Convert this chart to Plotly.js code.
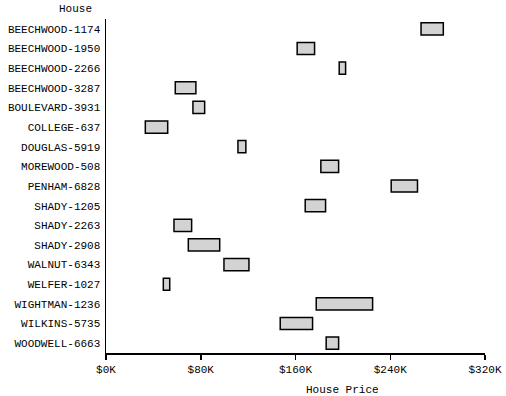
<!DOCTYPE html>
<html>
<head>
<meta charset="utf-8">
<script src="https://cdn.plot.ly/plotly-3.0.1.min.js"></script>
<style>html,body{margin:0;padding:0;background:#fff;}#chart{width:506px;height:396px;}</style>
</head>
<body>
<div id="chart"></div>
<script>
const houses = ["BEECHWOOD-1174","BEECHWOOD-1950","BEECHWOOD-2266","BEECHWOOD-3287","BOULEVARD-3931","COLLEGE-637","DOUGLAS-5919","MOREWOOD-508","PENHAM-6828","SHADY-1205","SHADY-2263","SHADY-2908","WALNUT-6343","WELFER-1027","WIGHTMAN-1236","WILKINS-5735","WOODWELL-6663"];
// price range in $K
const lowPrice  = [266, 161.4, 196.9, 58.5, 73.4, 33.2, 111.4, 181.4, 240.8, 168.2, 57.4, 69.5, 99.6, 48.4, 177.5, 147.1, 185.9];
const highPrice = [284.8, 176.1, 202.3, 75.9, 83.3, 52.1, 118.1, 196.4, 263, 185.4, 72.3, 96, 120.7, 53.8, 225.1, 174.4, 196.4];
const xTicks = [0, 80, 160, 240, 320];

const font = "Liberation Mono, Courier New, monospace";
const trace = {
  type: 'bar',
  orientation: 'h',
  y: houses,
  base: lowPrice,
  x: highPrice.map((h, i) => h - lowPrice[i]),
  marker: {color: '#d3d3d3', line: {color: '#000', width: 1.5}},
  hoverinfo: 'none'
};
const layout = {
  width: 506, height: 396,
  margin: {l: 106, r: 21, t: 19, b: 43},
  paper_bgcolor: '#fff', plot_bgcolor: '#fff',
  showlegend: false,
  bargap: 0.38,
  font: {family: font, size: 11, color: '#000'},
  xaxis: {
    range: [0, 320], tickvals: xTicks, ticktext: xTicks.map(v => '$' + v + 'K'),
    showgrid: false, zeroline: false, showline: true, linecolor: '#000', linewidth: 1.5,
    ticks: 'outside', ticklen: 5, tickcolor: '#000', tickwidth: 1.5,
    tickfont: {family: font, size: 11, color: '#000'}
  },
  yaxis: {
    autorange: 'reversed', showgrid: false, zeroline: false, showline: true,
    linecolor: '#000', linewidth: 1.5, ticks: '', ticklabelstandoff: 2,
    tickfont: {family: font, size: 11, color: '#000'}
  },
  annotations: [
    {text: 'House', xref: 'paper', yref: 'paper', x: -0.08, y: 1.0, yshift: 10, showarrow: false,
     xanchor: 'center', yanchor: 'middle', font: {family: font, size: 11, color: '#000'}},
    {text: 'House Price', xref: 'x', yref: 'paper', x: 200, y: 0, yshift: -37, showarrow: false,
     xanchor: 'center', yanchor: 'middle', font: {family: font, size: 11, color: '#000'}}
  ]
};
Plotly.newPlot('chart', [trace], layout, {displayModeBar: false, staticPlot: true});
</script>
</body>
</html>
